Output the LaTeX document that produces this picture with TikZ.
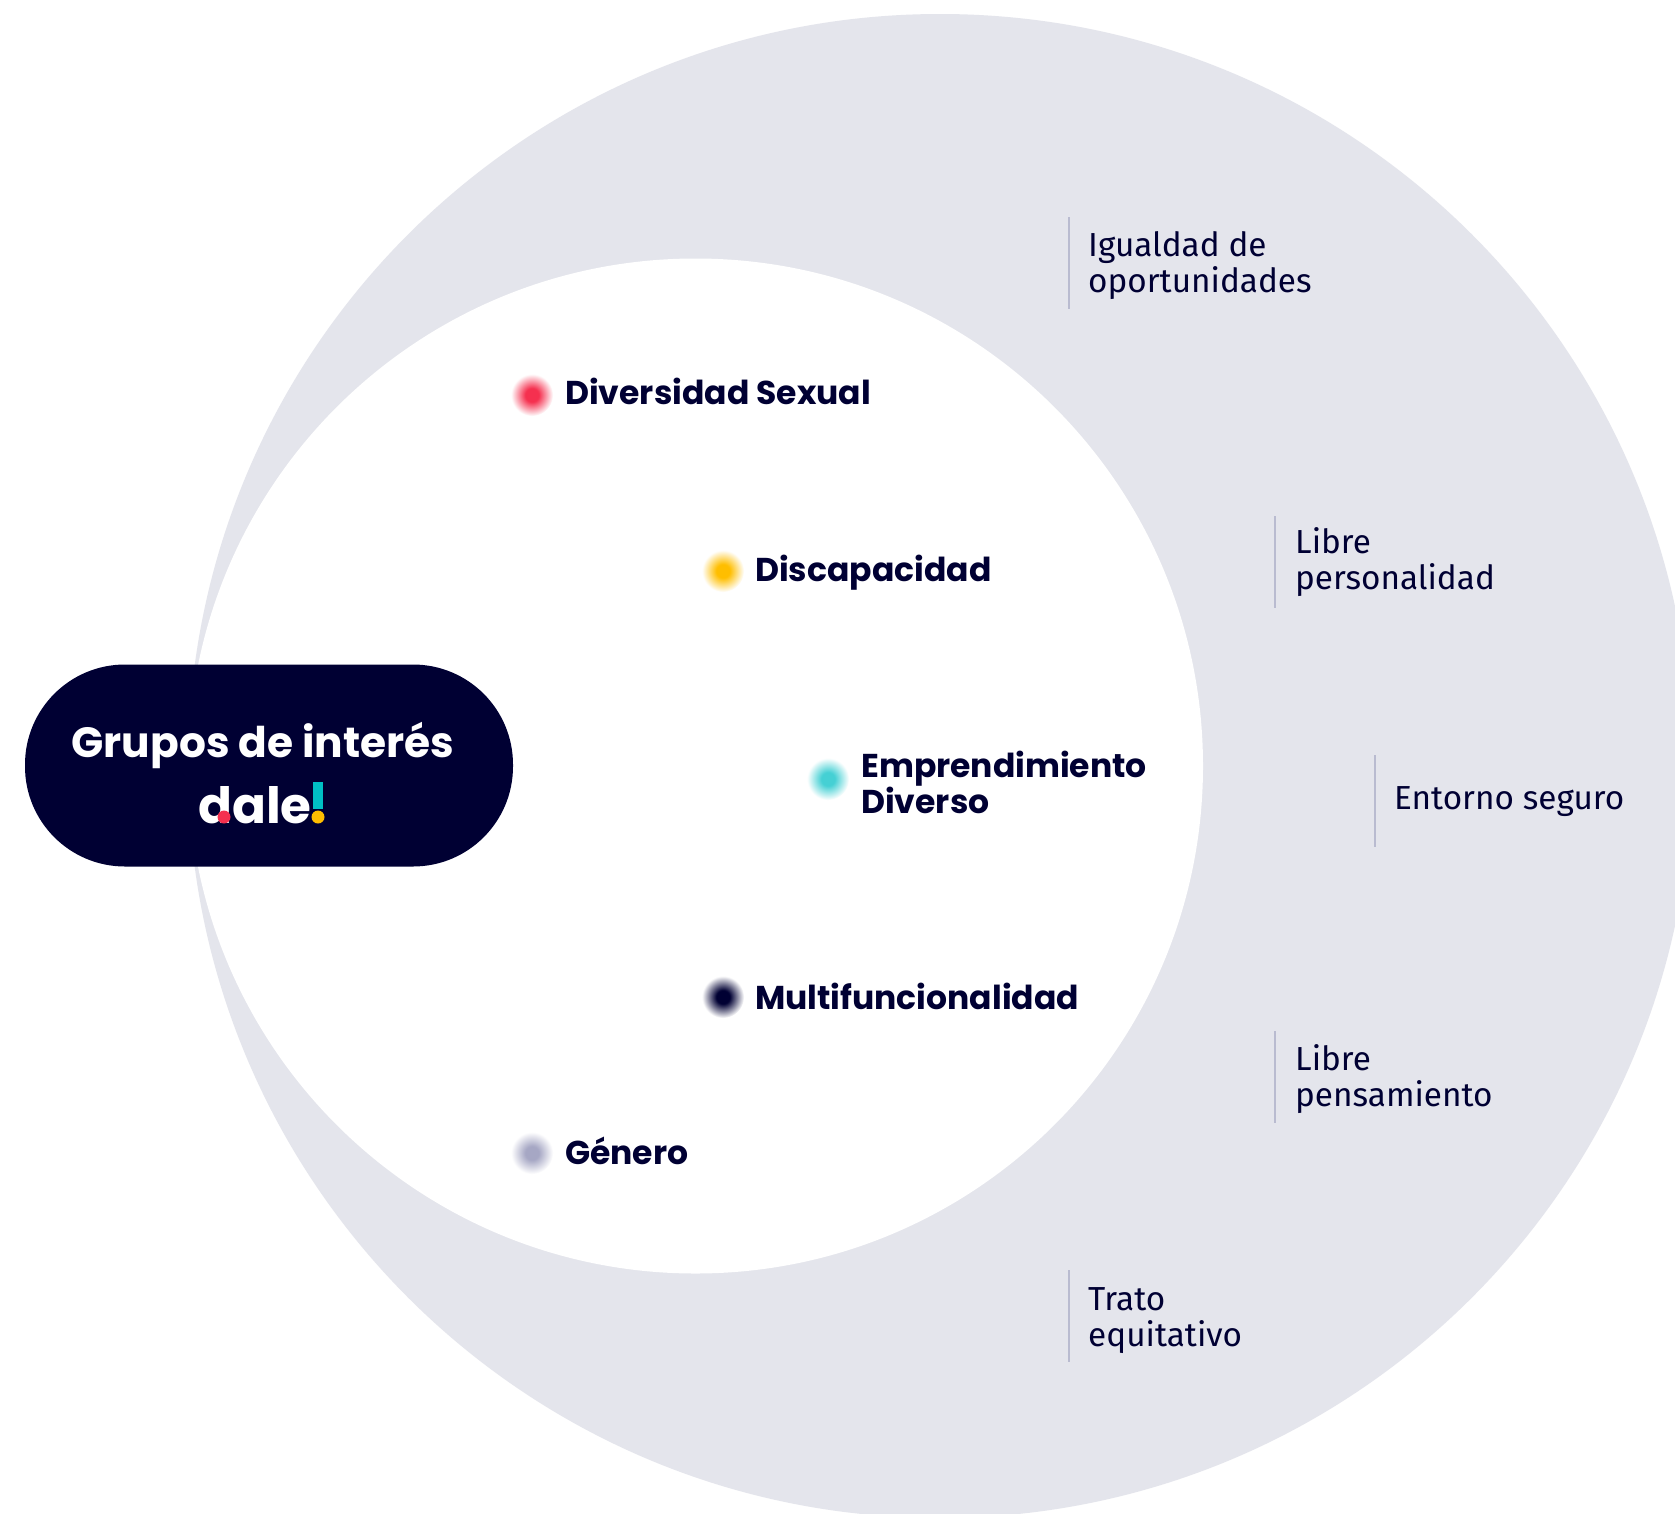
\documentclass[tikz,border=0pt]{standalone}
\usepackage{fontspec}
\usepackage{xcolor}
\usetikzlibrary{positioning}
\setmainfont{Fira Sans}
\newfontfamily\headfont{Poppins}
\definecolor{navy}{HTML}{000033}
\definecolor{ringgray}{HTML}{E4E5EC}
\definecolor{rulegray}{HTML}{B9BBD0}
\definecolor{dotred}{HTML}{F5304F}
\definecolor{dotyellow}{HTML}{FFBE00}
\definecolor{dotteal}{HTML}{45D0D4}
\definecolor{dotgray}{HTML}{A6A7C4}
\definecolor{logoteal}{HTML}{00BFC4}
\pgfdeclareradialshading{blurred red}{\pgfpointorigin}{color(0bp)=(dotred); color(8bp)=(dotred); color(25bp)=(white); color(50bp)=(white)}
\pgfdeclareradialshading{blurred yellow}{\pgfpointorigin}{color(0bp)=(dotyellow); color(8bp)=(dotyellow); color(25bp)=(white); color(50bp)=(white)}
\pgfdeclareradialshading{blurred teal}{\pgfpointorigin}{color(0bp)=(dotteal); color(8bp)=(dotteal); color(25bp)=(white); color(50bp)=(white)}
\pgfdeclareradialshading{blurred navy}{\pgfpointorigin}{color(0bp)=(navy); color(8bp)=(navy); color(25bp)=(white); color(50bp)=(white)}
\pgfdeclareradialshading{blurred gray}{\pgfpointorigin}{color(0bp)=(dotgray); color(8bp)=(dotgray); color(25bp)=(white); color(50bp)=(white)}
\tikzset{
    blurdot/.style={circle,inner sep=0pt,minimum size=42pt,shading=blurred #1},
    grouplabel/.style={font=\headfont\bfseries\fontsize{33}{36}\selectfont,text=navy,align=left,anchor=west,inner sep=0pt},
    sidelabel/.style={font=\fontsize{33.3}{36}\selectfont,text=navy,align=left,anchor=west,inner sep=0pt},
    siderule/.style={fill=rulegray,inner sep=0pt,minimum width=2.5pt,minimum height=92pt}
}
\begin{document}
\begin{tikzpicture}[x=1pt,y=-1pt]
    \clip (0,0) rectangle (1675,1513);
    \fill [white] (0,0) rectangle (1675,1513);
    \fill [ringgray] (940,766) circle [radius=752];
    \fill [white] (695.5,766) circle [radius=507.5];

    \node [fill=navy,rounded corners=100pt,minimum width=488pt,minimum height=202pt,inner sep=0pt] (Pill) at (269,765.5) {};
    \node [font=\headfont\bfseries\fontsize{42.3}{42}\selectfont,text=white,inner sep=0pt] (Title) at (263,745) {Grupos de interés};
    \node [font=\headfont\bfseries\fontsize{50}{50}\selectfont,text=white,inner sep=0pt,anchor=base west] (Dale) at (198,823) {dale};
    \fill [dotred] (224,817) circle [radius=6.5];
    \fill [logoteal] (313,782) rectangle (323,809);
    \fill [dotyellow] (318,817) circle [radius=6.5];

    \node [blurdot=red] (RedDot) at (532,395) {};
    \node [blurdot=yellow] (YellowDot) at (723,571) {};
    \node [blurdot=teal] (TealDot) at (828,779) {};
    \node [blurdot=navy] (NavyDot) at (723,997) {};
    \node [blurdot=gray] (GrayDot) at (532,1153) {};

    \node [grouplabel] (Sexual) at (565,391) {Diversidad Sexual};
    \node [grouplabel] (Discapacidad) at (755,573) {Discapacidad};
    \node [grouplabel] (Emprendimiento) at (861,782) {Emprendimiento\\Diverso};
    \node [grouplabel] (Multi) at (755,996) {Multifuncionalidad};
    \node [grouplabel] (Genero) at (565,1151) {Género};

    \node [siderule] (IgualdadRule) at (1069,263) {};
    \node [siderule] (PersonalidadRule) at (1275,562) {};
    \node [siderule] (EntornoRule) at (1375,801) {};
    \node [siderule] (PensamientoRule) at (1275,1077) {};
    \node [siderule] (TratoRule) at (1069,1316) {};

    \node [sidelabel] (Igualdad) at (1088,266) {Igualdad de\\oportunidades};
    \node [sidelabel] (Personalidad) at (1295,562) {Libre\\personalidad};
    \node [sidelabel] (Entorno) at (1394,802) {Entorno seguro};
    \node [sidelabel] (Pensamiento) at (1295,1079) {Libre\\pensamiento};
    \node [sidelabel] (Trato) at (1088,1321) {Trato\\equitativo};
\end{tikzpicture}
\end{document}
